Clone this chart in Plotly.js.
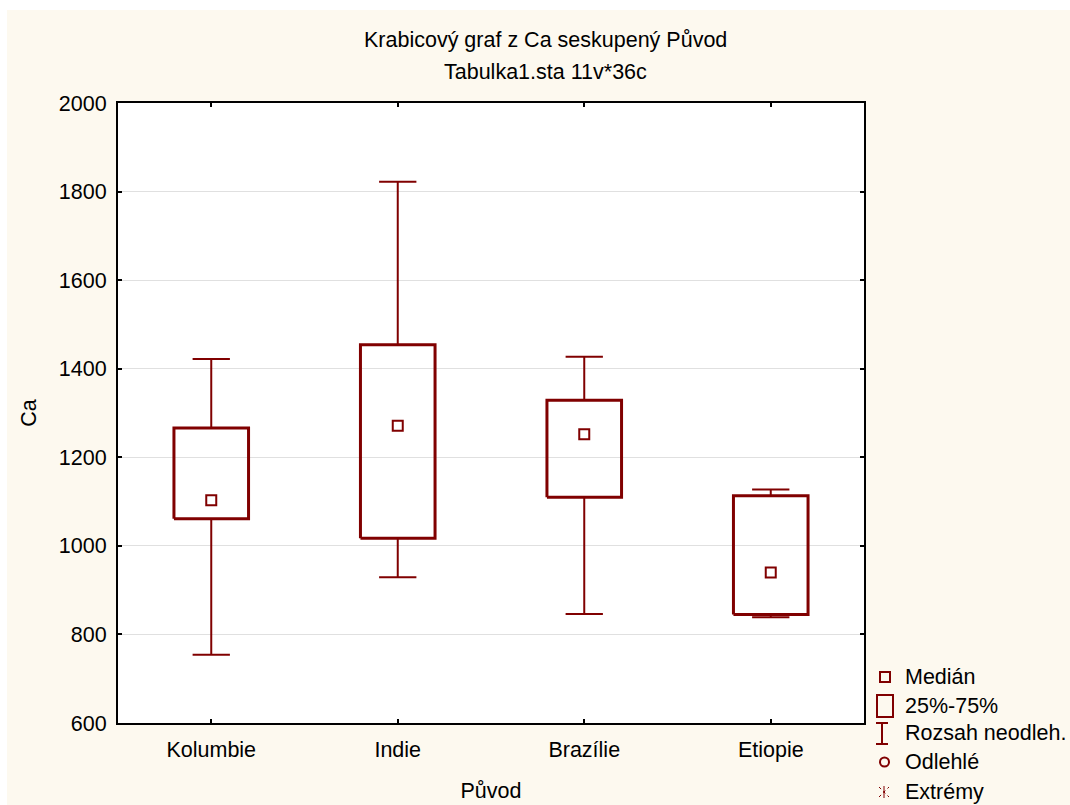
<!DOCTYPE html>
<html>
<head>
<meta charset="utf-8">
<script src="https://cdn.plot.ly/plotly-3.0.1.min.js"></script>
<style>
  html, body { margin: 0; padding: 0; background: #ffffff; }
  #chart { position: absolute; left: 7px; top: 10px; width: 1063px; height: 795px; }
</style>
</head>
<body>
<div id="chart"></div>
<script>
// Box plot of Ca grouped by origin (Původ)
const categories = ['Kolumbie', 'Indie', 'Brazílie', 'Etiopie'];
const medianVals = [1103, 1271, 1252, 940];
const q1Vals     = [1061, 1017, 1110, 845];
const q3Vals     = [1266, 1454, 1329, 1113];
const lowVals    = [754, 929, 846, 839];
const highVals   = [1422, 1822, 1427, 1127];

const yTicks = [600, 800, 1000, 1200, 1400, 1600, 1800, 2000];

const legendLabels = ['Medián', '25%-75%', 'Rozsah neodleh.', 'Odlehlé', 'Extrémy'];

const RED = '#800000';
const FONT = 'Liberation Sans, Arial, sans-serif';
const FS = 21.5;

const BOX_HALF = 0.2;
const CAP_HALF = 0.1;

// Geometry of the drawing area inside the div
const DIV_W = 1063, DIV_H = 795, OFF_X = 7, OFF_Y = 10;
const M = { l: 111, r: 206, t: 93, b: 82 };
const PW = DIV_W - M.l - M.r, PH = DIV_H - M.t - M.b;
const px = x => (x - OFF_X - M.l) / PW;      // page x -> paper x
const py = y => 1 - (y - OFF_Y - M.t) / PH;  // page y -> paper y

// Whiskers (from box edges out to the non-outlier range) and caps
const wx = [], wy = [], cx = [], cy = [];
const bx = [], by = [];
categories.forEach((c, i) => {
  wx.push(i, i, null, i, i, null);
  wy.push(lowVals[i], q1Vals[i], null, q3Vals[i], highVals[i], null);
  cx.push(i - CAP_HALF, i + CAP_HALF, null, i - CAP_HALF, i + CAP_HALF, null);
  cy.push(lowVals[i], lowVals[i], null, highVals[i], highVals[i], null);
  bx.push(i - BOX_HALF, i + BOX_HALF, i + BOX_HALF, i - BOX_HALF, i - BOX_HALF, null);
  by.push(q1Vals[i], q1Vals[i], q3Vals[i], q3Vals[i], q1Vals[i], null);
});

const traces = [
  { type: 'scatter', mode: 'lines', x: wx, y: wy, line: { color: RED, width: 2 }, hoverinfo: 'skip', showlegend: false },
  { type: 'scatter', mode: 'lines', x: cx, y: cy, line: { color: RED, width: 2 }, hoverinfo: 'skip', showlegend: false },
  { type: 'scatter', mode: 'lines', x: bx, y: by, line: { color: RED, width: 3 }, hoverinfo: 'skip', showlegend: false },
  { type: 'scatter', mode: 'markers', x: categories.map((c, i) => i), y: medianVals,
    marker: { symbol: 'square-open', size: 10, color: RED, line: { width: 2, color: RED } },
    showlegend: false }
];

// Hand-drawn legend at the right
const shapes = [];
const annotations = [];
const legX = 885, legTextX = 903;
const legY = [677, 706, 733, 762, 792];

// Medián: small square
shapes.push({ type: 'rect', xref: 'paper', yref: 'paper',
  x0: px(legX - 5), x1: px(legX + 5), y0: py(legY[0] + 5), y1: py(legY[0] - 5),
  line: { color: RED, width: 2 } });
// 25%-75%: tall rectangle
shapes.push({ type: 'rect', xref: 'paper', yref: 'paper',
  x0: px(legX - 8), x1: px(legX + 8), y0: py(legY[1] + 11), y1: py(legY[1] - 11),
  line: { color: RED, width: 2 } });
// Rozsah neodleh.: I-beam
shapes.push({ type: 'line', xref: 'paper', yref: 'paper',
  x0: px(legX - 3), x1: px(legX - 3), y0: py(legY[2] - 10), y1: py(legY[2] + 11),
  line: { color: RED, width: 2 } });
shapes.push({ type: 'line', xref: 'paper', yref: 'paper',
  x0: px(legX - 9), x1: px(legX + 3), y0: py(legY[2] - 10), y1: py(legY[2] - 10),
  line: { color: RED, width: 2 } });
shapes.push({ type: 'line', xref: 'paper', yref: 'paper',
  x0: px(legX - 9), x1: px(legX + 3), y0: py(legY[2] + 11), y1: py(legY[2] + 11),
  line: { color: RED, width: 2 } });
// Odlehlé: small circle
shapes.push({ type: 'circle', xref: 'paper', yref: 'paper',
  x0: px(legX - 5), x1: px(legX + 4), y0: py(legY[3] + 4.5), y1: py(legY[3] - 4.5),
  line: { color: RED, width: 2 } });
// Extrémy: asterisk
const ey = legY[4];
shapes.push({ type: 'line', xref: 'paper', yref: 'paper',
  x0: px(legX - 1), x1: px(legX - 1), y0: py(ey - 6), y1: py(ey + 6), line: { color: RED, width: 1 } });
shapes.push({ type: 'line', xref: 'paper', yref: 'paper',
  x0: px(legX - 6), x1: px(legX + 4), y0: py(ey - 5), y1: py(ey + 5), line: { color: RED, width: 1, dash: 'dot' } });
shapes.push({ type: 'line', xref: 'paper', yref: 'paper',
  x0: px(legX - 6), x1: px(legX + 4), y0: py(ey + 5), y1: py(ey - 5), line: { color: RED, width: 1, dash: 'dot' } });

legendLabels.forEach((t, i) => {
  annotations.push({ xref: 'paper', yref: 'paper', x: px(legTextX), y: py(legY[i]),
    xanchor: 'left', yanchor: 'middle', text: t, showarrow: false,
    font: { family: FONT, size: FS, color: '#000' } });
});

// Titles
annotations.push({ xref: 'paper', yref: 'paper', x: px(545), y: py(40), xanchor: 'center', yanchor: 'middle',
  text: 'Krabicový graf z Ca seskupený Původ', showarrow: false, font: { family: FONT, size: FS, color: '#000' } });
annotations.push({ xref: 'paper', yref: 'paper', x: px(545), y: py(72), xanchor: 'center', yanchor: 'middle',
  text: 'Tabulka1.sta 11v*36c', showarrow: false, font: { family: FONT, size: FS, color: '#000' } });

const layout = {
  width: DIV_W, height: DIV_H,
  margin: M,
  paper_bgcolor: '#fdf9ef',
  plot_bgcolor: '#ffffff',
  font: { family: FONT, size: FS, color: '#000' },
  showlegend: false,
  xaxis: {
    range: [-0.5, 3.5],
    tickmode: 'array',
    tickvals: categories.map((c, i) => i),
    ticktext: categories,
    showgrid: false, zeroline: false,
    showline: true, linecolor: '#000', linewidth: 2, mirror: 'ticks',
    ticks: 'inside', ticklen: 4, tickwidth: 2, tickcolor: '#000',
    ticklabelstandoff: 6,
    tickfont: { family: FONT, size: FS },
    title: { text: 'Původ', font: { family: FONT, size: FS }, standoff: 22 }
  },
  yaxis: {
    range: [600, 2000],
    tickmode: 'array', tickvals: yTicks,
    showgrid: true, gridcolor: '#e0e0e0', gridwidth: 1, zeroline: false,
    showline: true, linecolor: '#000', linewidth: 2, mirror: 'ticks',
    ticks: 'inside', ticklen: 4, tickwidth: 2, tickcolor: '#000',
    ticklabelstandoff: 5,
    tickfont: { family: FONT, size: FS },
    title: { text: 'Ca', font: { family: FONT, size: FS }, standoff: 16 }
  },
  shapes: shapes,
  annotations: annotations
};

Plotly.newPlot('chart', traces, layout, { displayModeBar: false, staticPlot: true });
</script>
</body>
</html>
